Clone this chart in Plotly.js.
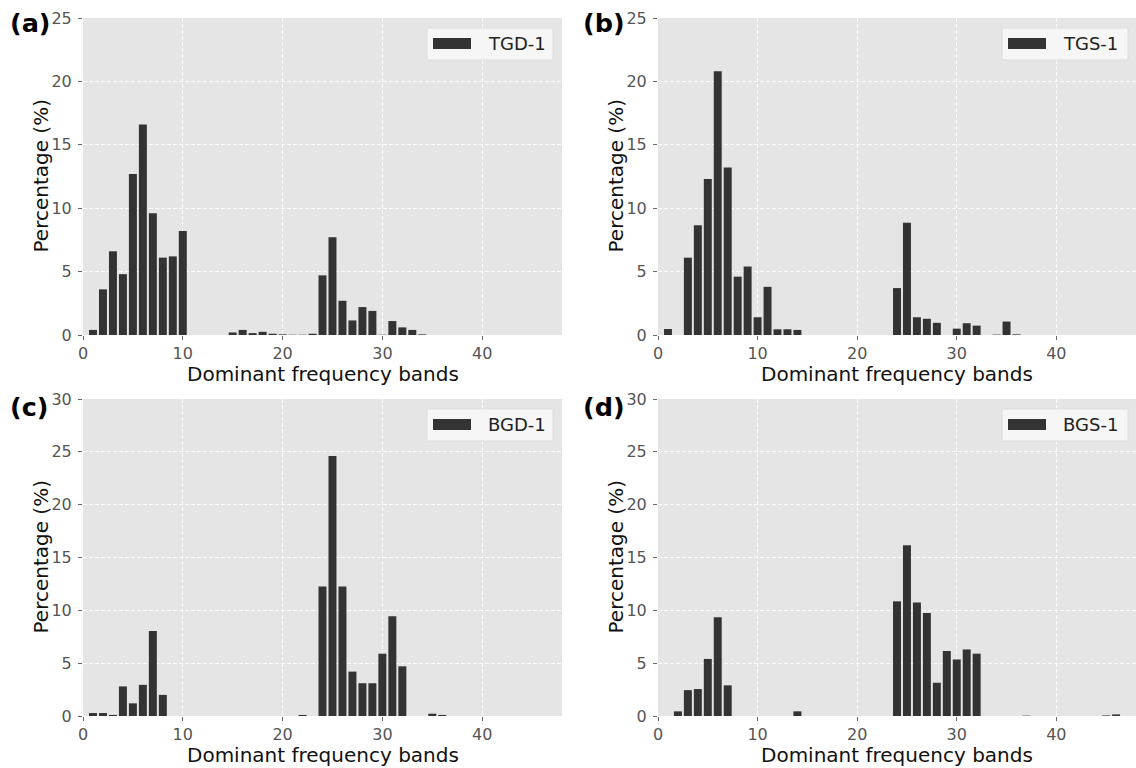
<!DOCTYPE html>
<html>
<head>
<meta charset="utf-8">
<script src="https://cdn.plot.ly/plotly-3.0.1.min.js"></script>
<style>
  html, body { margin: 0; padding: 0; background: #ffffff; }
  #chart { width: 1136px; height: 768px; }
</style>
</head>
<body>
<div id="chart"></div>
<script>
// Dominant frequency band index (1..46)
const bands = [1,2,3,4,5,6,7,8,9,10,11,12,13,14,15,16,17,18,19,20,21,22,23,24,25,26,27,28,29,30,31,32,33,34,35,36,37,38,39,40,41,42,43,44,45,46];

// Percentage (%) per band
const tgd1 = [0.4,3.6,6.6,4.8,12.7,16.6,9.6,6.1,6.2,8.2,0,0,0,0,0.2,0.4,0.15,0.25,0.1,0.05,0.02,0.02,0.1,4.7,7.7,2.7,1.15,2.2,1.9,0.02,1.1,0.6,0.4,0.05,0,0,0,0,0,0,0,0,0,0,0,0];
const tgs1 = [0.47,0,6.1,8.65,12.3,20.8,13.2,4.6,5.4,1.4,3.8,0.45,0.45,0.4,0,0,0,0,0,0,0,0,0,3.7,8.85,1.4,1.28,0.96,0,0.5,0.93,0.74,0,0.03,1.06,0.05,0,0,0,0,0,0,0,0,0,0];
const bgd1 = [0.28,0.28,0.1,2.8,1.2,2.95,8.05,2.0,0,0,0,0,0,0,0,0,0,0,0,0,0,0.1,0,12.25,24.6,12.25,4.2,3.1,3.1,5.9,9.45,4.7,0,0,0.22,0.1,0,0,0,0,0,0,0,0,0,0];
const bgs1 = [0,0.44,2.45,2.55,5.4,9.35,2.9,0,0,0,0,0,0,0.44,0,0,0,0,0,0,0,0,0,10.85,16.15,10.75,9.75,3.15,6.15,5.35,6.3,5.9,0,0,0,0,0.03,0,0,0,0,0,0,0,0.05,0.15];

const seriesNames = ["TGD-1", "TGS-1", "BGD-1", "BGS-1"];
const panelLetters = ["(a)", "(b)", "(c)", "(d)"];
const seriesValues = [tgd1, tgs1, bgd1, bgs1];
const yMax = [25, 25, 30, 30];

const xTitle = "Dominant frequency bands";
const yTitle = "Percentage (%)";

const W = 1136, H = 768;
const colDom = [[83 / W, 562 / W], [658 / W, 1.0]];
const rowDom = [[1 - 335 / H, 1 - 18 / H], [1 - 716 / H, 1 - 399 / H]];

const FONT = "DejaVu Sans, Liberation Sans, sans-serif";
const BAR = "#333333";

const traces = [];
const layout = {
  width: W, height: H,
  margin: {l: 0, r: 0, t: 0, b: 0},
  paper_bgcolor: "#ffffff",
  plot_bgcolor: "#e5e5e5",
  showlegend: false,
  font: {family: FONT, color: "#222"},
  shapes: [],
  annotations: []
};

for (let i = 0; i < 4; i++) {
  const n = i === 0 ? "" : String(i + 1);
  const xa = "x" + n, ya = "y" + n;
  const col = i % 2, row = Math.floor(i / 2);
  traces.push({
    type: "bar",
    x: bands,
    y: seriesValues[i],
    name: seriesNames[i],
    xaxis: xa, yaxis: ya,
    width: 0.8,
    marker: {color: BAR, line: {width: 0}},
    hoverinfo: "x+y"
  });
  const axisCommon = {
    showgrid: true, gridcolor: "rgba(255,255,255,0.85)", griddash: "4px,2px", gridwidth: 1,
    zeroline: false, showline: false,
    ticks: "outside", ticklen: 4, tickwidth: 1, tickcolor: "#666",
    tickfont: {family: FONT, size: 16, color: "#555555"},
    fixedrange: true
  };
  layout["xaxis" + n] = Object.assign({}, axisCommon, {
    domain: colDom[col], anchor: ya,
    range: [0, 48], tickvals: [0, 10, 20, 30, 40], ticklabelstandoff: 0
  });
  const yt = [];
  for (let v = 0; v <= yMax[i]; v += 5) yt.push(v);
  layout["yaxis" + n] = Object.assign({}, axisCommon, {
    domain: rowDom[row], anchor: xa,
    range: [0, yMax[i]], tickvals: yt, ticklabelstandoff: 3
  });

  // axis titles
  layout.annotations.push({
    xref: xa + " domain", yref: ya + " domain", x: 0.5, y: 0,
    xanchor: "center", yanchor: "middle", yshift: -39, showarrow: false,
    borderpad: 0,
    text: xTitle, font: {family: FONT, size: 20, color: "#111"}
  });
  layout.annotations.push({
    xref: xa + " domain", yref: ya + " domain", x: 0, y: 0.5,
    xanchor: "center", yanchor: "middle", xshift: -43, textangle: -90, showarrow: false,
    borderpad: 0,
    text: yTitle, font: {family: FONT, size: 20, color: "#111"}
  });
  // panel letter
  layout.annotations.push({
    xref: "paper", yref: "paper",
    x: (col === 0 ? 9 : 582) / W, y: 1 - (row === 0 ? 23 : 407) / H,
    xanchor: "left", yanchor: "middle", showarrow: false,
    borderpad: 0,
    text: "<b>" + panelLetters[i] + "</b>",
    font: {family: FONT, size: 25.5, color: "#000"}
  });

  // legend drawn in axis-domain coordinates
  const pw = (colDom[col][1] - colDom[col][0]) * W;
  const ph = 317;
  const rEdge = col === 0 ? 9 : 8;
  layout.shapes.push({
    type: "rect", xref: xa + " domain", yref: ya + " domain",
    x0: 1 - (rEdge + 126) / pw, x1: 1 - rEdge / pw,
    y0: 1 - 42 / ph, y1: 1 - 10 / ph,
    fillcolor: "#f6f6f6", line: {color: "#dcdcdc", width: 1}, layer: "above"
  });
  layout.shapes.push({
    type: "rect", xref: xa + " domain", yref: ya + " domain",
    x0: 1 - (rEdge + 120) / pw, x1: 1 - (rEdge + 82) / pw,
    y0: 1 - 31 / ph, y1: 1 - 20 / ph,
    fillcolor: BAR, line: {width: 0}, layer: "above"
  });
  layout.annotations.push({
    xref: xa + " domain", yref: ya + " domain",
    x: 1 - (rEdge + 67) / pw, y: 1 - 25.5 / ph,
    xanchor: "left", yanchor: "middle", showarrow: false,
    text: seriesNames[i], font: {family: FONT, size: 18, color: "#222"}
  });
}

Plotly.newPlot("chart", traces, layout, {displayModeBar: false, staticPlot: true});
</script>
</body>
</html>
